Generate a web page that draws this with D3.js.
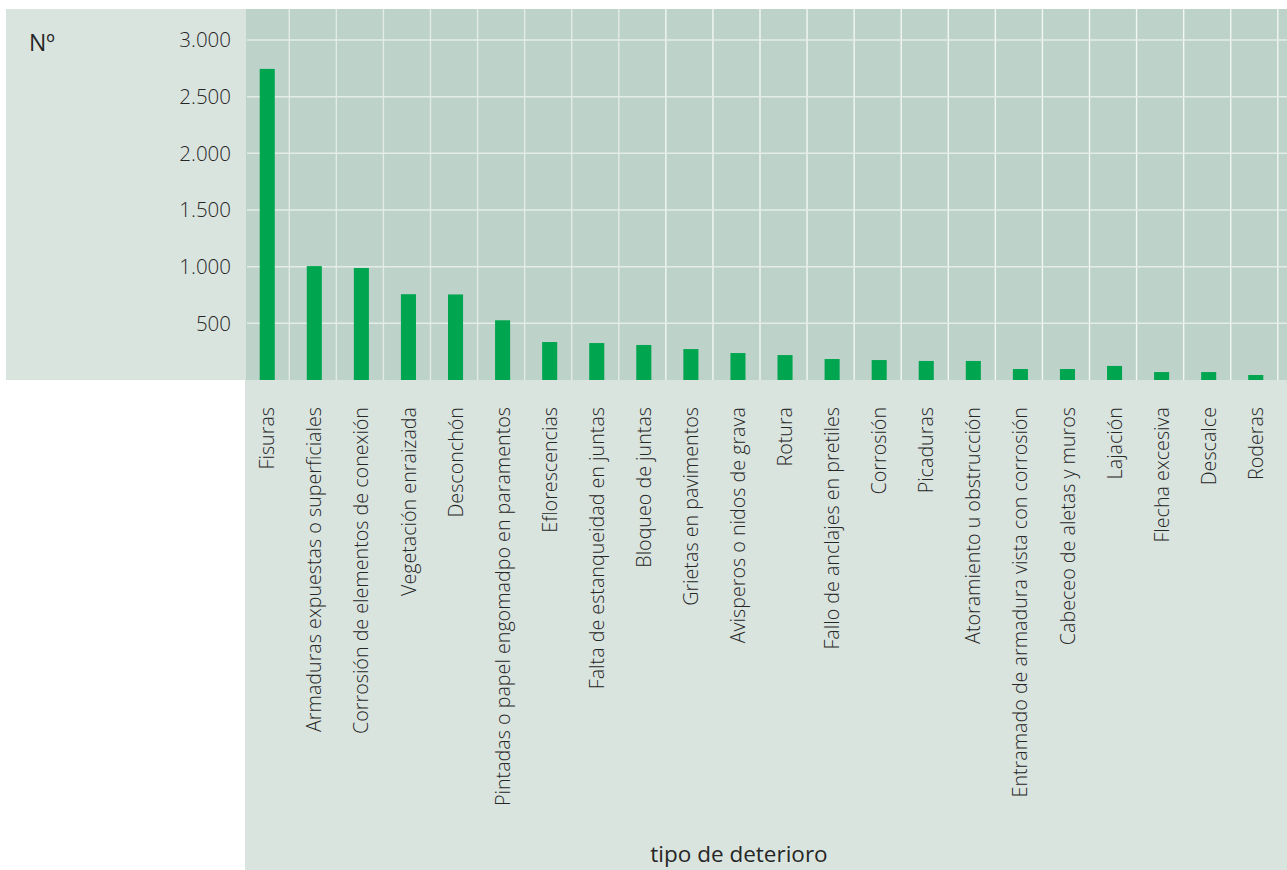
<!DOCTYPE html>
<html>
<head>
<meta charset="utf-8">
<script src="https://cdn.jsdelivr.net/npm/d3@7"></script>
<style>
  html, body { margin: 0; padding: 0; background: #ffffff; }
  svg { display: block; }
  text { font-family: "Open Sans", "Noto Sans", sans-serif; fill: #262626; }
</style>
</head>
<body>
<svg id="chart" width="1287" height="870"></svg>
<script>
const categories = [
  "Fisuras",
  "Armaduras expuestas o superficiales",
  "Corrosión de elementos de conexión",
  "Vegetación enraizada",
  "Desconchón",
  "Pintadas o papel engomadpo en paramentos",
  "Eflorescencias",
  "Falta de estanqueidad en juntas",
  "Bloqueo de juntas",
  "Grietas en pavimentos",
  "Avisperos o nidos de grava",
  "Rotura",
  "Fallo de anclajes en pretiles",
  "Corrosión",
  "Picaduras",
  "Atoramiento u obstrucción",
  "Entramado de armadura vista con corrosión",
  "Cabeceo de aletas y muros",
  "Lajación",
  "Flecha excesiva",
  "Descalce",
  "Roderas"
];
const values = [2745, 1005, 988, 757, 755, 527, 335, 326, 309, 273, 238, 220, 185, 176, 168, 168, 97, 97, 124, 70, 70, 44];
const yTicks = [500, 1000, 1500, 2000, 2500, 3000];
const yTickLabels = ["500", "1.000", "1.500", "2.000", "2.500", "3.000"];
const yAxisTitle = "Nº";
const xAxisTitle = "tipo de deterioro";

const svg = d3.select("#chart");

const plot = { left: 246, right: 1287, top: 9, bottom: 380 };

const x = d3.scaleBand().domain(categories).range([242.2, 1277.8]).padding(0);
const y = d3.scaleLinear().domain([0, 3000]).range([plot.bottom, 40]);

// backgrounds
svg.append("rect").attr("x", 6).attr("y", plot.top)
  .attr("width", 1287 - 6).attr("height", plot.bottom - plot.top)
  .attr("fill", "#dae4df");
svg.append("rect").attr("x", 245).attr("y", plot.bottom)
  .attr("width", 1287 - 245).attr("height", 870 - plot.bottom)
  .attr("fill", "#dae4df");
svg.append("rect").attr("x", plot.left).attr("y", plot.top)
  .attr("width", plot.right - plot.left).attr("height", plot.bottom - plot.top)
  .attr("fill", "#bdd2c9");

// vertical gridlines at band boundaries
const bounds = categories.map((c) => x(c) + x.bandwidth());
svg.append("g").selectAll("line").data(bounds).join("line")
  .attr("x1", d => d).attr("x2", d => d)
  .attr("y1", plot.top).attr("y2", plot.bottom)
  .attr("stroke", (d, i) => i < 8 ? "#e3ebe7" : "#f2f6f4")
  .attr("stroke-width", 1.4);

// horizontal gridlines
svg.append("g").selectAll("line").data(yTicks).join("line")
  .attr("x1", 247).attr("x2", plot.right)
  .attr("y1", d => y(d)).attr("y2", d => y(d))
  .attr("stroke", "#e4ece8")
  .attr("stroke-width", 1.5);

// bars
const barW = x.bandwidth() * 0.32;
svg.append("g").selectAll("rect").data(values).join("rect")
  .attr("x", (d, i) => x(categories[i]) + x.bandwidth() / 2 + 1.5 - barW / 2)
  .attr("y", d => y(d))
  .attr("width", barW)
  .attr("height", d => y(0) - y(d))
  .attr("fill", "#00a64f");

// y tick labels
svg.append("g").selectAll("text").data(yTicks).join("text")
  .attr("x", 231)
  .attr("y", d => y(d))
  .attr("dy", "0.36em")
  .attr("text-anchor", "end")
  .attr("font-size", "20.5px")
  .attr("font-weight", 300)
  .text((d, i) => yTickLabels[i]);

// y axis title
svg.append("text")
  .attr("x", 29).attr("y", 51)
  .attr("font-size", "23px")
  .attr("font-weight", 400)
  .text(yAxisTitle);

// category labels
svg.append("g").selectAll("text").data(categories).join("text")
  .attr("transform", d => `translate(${x(d) + x.bandwidth() / 2 + 1.5},407) rotate(-90)`)
  .attr("text-anchor", "end")
  .attr("dy", "0.36em")
  .attr("font-size", "19.7px")
  .attr("font-weight", 300)
  .text(d => d);

// x axis title
svg.append("text")
  .attr("x", 739).attr("y", 862)
  .attr("text-anchor", "middle")
  .attr("font-size", "22.5px")
  .attr("font-weight", 400)
  .text(xAxisTitle);
</script>
</body>
</html>
